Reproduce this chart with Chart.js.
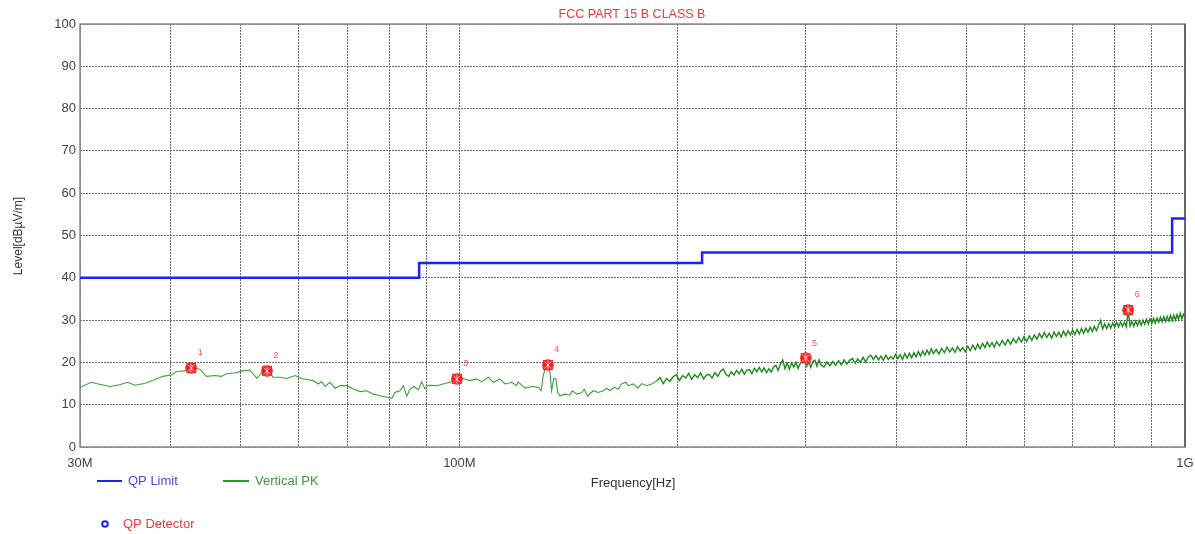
<!DOCTYPE html>
<html>
<head>
<meta charset="utf-8">
<script src="https://cdn.jsdelivr.net/npm/chart.js@4.4.1/dist/chart.umd.min.js"></script>
<style>
    html, body { margin: 0; padding: 0; background: #fff; }
    #chart { display: block; }
</style>
</head>
<body>
<canvas id="chart" width="1195" height="534"></canvas>
<script>
// QP limit (stepped), MHz / dBµV/m
const limitFreq = [30, 88, 88, 216, 216, 960, 960, 1000];
const limitLevel = [40, 40, 43.5, 43.5, 46, 46, 54, 54];

// Vertical PK trace
const pkFreq = [
    30.0, 31.1, 31.8, 33.0, 34.0, 34.9, 35.7, 36.8, 37.8, 39.0,
    40.1, 40.7, 41.8, 42.9, 43.9, 44.8, 46.0, 47.0, 47.7, 49.0,
    50.3, 51.4, 52.6, 53.6, 54.3, 55.4, 56.6, 57.8, 59.4, 60.6,
    61.9, 62.9, 63.9, 64.6, 65.3, 66.3, 67.4, 68.5, 69.9, 71.4,
    73.0, 74.5, 76.1, 77.7, 79.8, 80.7, 81.5, 82.8, 83.7, 84.6,
    85.5, 86.6, 87.8, 88.7, 89.7, 90.6, 93.0, 95.5, 97.6, 99.2,
    101.2, 103.4, 105.6, 107.3, 109.6, 111.4, 113.7, 115.6, 118.1, 119.9,
    120.5, 123.2, 125.8, 128.5, 129.6, 130.5, 131.5, 132.6, 133.3, 134.0,
    134.9, 135.8, 136.6, 137.6, 139.8, 142.0, 143.1, 145.1, 147.4, 148.6,
    150.2, 152.9, 155.4, 157.9, 159.6, 161.3, 163.5, 165.6, 167.3, 169.5,
    171.0, 173.7, 176.1, 178.4, 181.2, 184.1, 187, 189, 191, 193,
    195, 197, 199, 201, 203, 205, 207, 209, 211, 213,
    215, 217, 219, 221, 223, 225, 227, 229, 231, 233,
    235, 237, 239, 241, 243, 245, 247, 249, 251, 253,
    255, 257, 259, 261, 263, 265, 267, 269, 271, 273,
    275, 277, 279, 281, 283, 285, 287, 289, 291, 293,
    295, 297, 299, 301, 303, 305, 307, 309, 311, 313,
    315, 318, 321, 324, 327, 330, 333, 336, 339, 342,
    345, 348, 351, 354, 357, 360, 363, 366, 369, 372,
    375, 378, 381, 384, 387, 390, 393, 396, 399, 402,
    405, 408, 411, 414, 417, 420, 423, 426, 429, 432,
    435, 438, 441, 444, 447, 450, 454, 458, 462, 466,
    470, 474, 478, 482, 486, 490, 494, 498, 502, 506,
    510, 514, 518, 522, 526, 530, 534, 538, 542, 546,
    550, 555, 560, 565, 570, 575, 580, 585, 590, 595,
    600, 605, 610, 615, 620, 625, 630, 635, 640, 645,
    650, 655, 660, 665, 670, 675, 680, 685, 690, 695,
    700, 705, 710, 715, 720, 725, 730, 735, 740, 745,
    750, 755, 760, 765, 770, 775, 780, 785, 790, 795,
    800, 805, 810, 815, 820, 825, 830, 835, 840, 845,
    850, 855, 860, 865, 870, 875, 880, 885, 890, 895,
    900, 905, 910, 915, 920, 925, 930, 935, 940, 945,
    950, 955, 960, 965, 970, 975, 980, 985, 990, 995,
    1000
];
const pkLevel = [
    14.1, 15.3, 14.9, 14.3, 14.7, 15.3, 14.6, 15.0, 15.7, 16.7,
    17.0, 17.8, 18.0, 18.6, 18.4, 16.7, 16.9, 16.7, 17.3, 17.5,
    18.0, 18.2, 16.2, 18.0, 18.3, 16.5, 16.5, 16.2, 16.9, 16.2,
    15.9, 15.7, 14.9, 15.4, 14.3, 15.3, 13.9, 14.5, 14.5, 13.7,
    13.1, 13.3, 12.5, 12.1, 11.7, 11.5, 12.9, 13.3, 14.5, 12.0,
    13.7, 14.3, 13.5, 15.4, 13.7, 14.6, 14.5, 15.0, 15.4, 16.2,
    16.2, 15.7, 16.1, 15.4, 16.5, 15.3, 16.1, 14.9, 15.3, 14.5,
    15.4, 13.9, 14.3, 14.1, 13.3, 16.9, 19.2, 19.6, 17.6, 13.3,
    16.2, 16.1, 12.9, 12.1, 12.5, 12.3, 13.3, 12.5, 12.8, 13.7,
    12.0, 13.3, 12.9, 13.3, 13.9, 13.3, 14.1, 13.7, 14.9, 15.3,
    14.5, 14.9, 13.9, 15.0, 14.5, 14.9, 15.6, 16.4, 15.0, 16.2,
    15.5, 16.6, 17.1, 15.7, 16.9, 16.3, 17.4, 16.0, 17.1, 16.4,
    17.5, 16.1, 17.0, 17.2, 16.3, 17.6, 16.7, 17.9, 18.4, 17.2,
    16.7, 17.8, 17.0, 18.1, 17.3, 18.4, 17.2, 18.2, 18.3, 17.3,
    18.6, 17.8, 18.8, 17.7, 18.7, 17.6, 18.5, 17.7, 18.9, 19.3,
    18.1, 19.6, 20.6, 18.5, 19.8, 18.4, 19.9, 18.9, 20.0, 18.6,
    19.8, 20.2, 20.5, 19.1, 20.1, 18.8, 20.2, 20.5, 19.1, 20.6,
    19.4, 18.9, 20.1, 19.2, 20.2, 19.3, 20.4, 19.4, 20.6, 19.6,
    20.5, 20.9, 19.8, 20.8, 20.0, 21.2, 20.1, 21.3, 21.7, 20.7,
    21.6, 20.6, 21.5, 20.5, 21.7, 20.7, 21.4, 20.8, 21.9, 20.9,
    21.8, 20.7, 22.1, 21.0, 22.2, 21.1, 22.3, 21.3, 22.6, 21.5,
    22.7, 21.7, 22.9, 21.9, 23.2, 22.1, 23.1, 22.0, 23.3, 22.3,
    23.6, 22.5, 23.4, 22.4, 23.7, 22.7, 23.5, 22.5, 23.8, 22.8,
    24.1, 23.0, 24.3, 23.2, 24.5, 23.5, 24.8, 23.7, 24.7, 23.6,
    24.9, 23.9, 25.2, 24.1, 25.4, 24.3, 25.6, 24.6, 25.9, 24.8,
    26.1, 24.9, 26.3, 25.2, 26.5, 25.5, 26.8, 25.8, 27.1, 25.9,
    26.9, 25.7, 27.2, 26.1, 27.1, 26.0, 27.4, 26.3, 27.5, 26.5,
    27.7, 26.6, 27.8, 26.7, 28.0, 26.9, 28.1, 27.1, 28.3, 27.3,
    28.5, 27.5, 28.7, 29.9, 27.9, 29.1, 28.0, 29.2, 28.1, 29.3,
    28.3, 29.5, 28.4, 29.6, 28.5, 29.5, 28.4, 32.2, 28.6, 29.7,
    28.5, 29.8, 28.7, 29.9, 28.8, 30.0, 29.0, 30.2, 29.1, 30.3,
    29.2, 30.4, 29.3, 30.5, 29.5, 30.7, 29.6, 30.8, 29.7, 30.9,
    29.8, 31.1, 29.9, 31.2, 30.0, 31.3, 30.2, 31.6, 30.3, 31.4,
    30.7
];

// QP detector markers
const markerFreq = [42.7, 54.3, 99.2, 132.4, 300, 835];
const markerLevel = [18.7, 18.0, 16.1, 19.4, 21.0, 32.4];
const markerLabels = ['1', '2', '3', '4', '5', '6'];

// axis ticks
const gridFreqs = [30, 40, 50, 60, 70, 80, 90, 100, 200, 300, 400, 500, 600, 700, 800, 900, 1000];
const freqTickLabels = { 30: '30M', 100: '100M', 1000: '1G' };

const FONT = '"Liberation Sans", Arial, sans-serif';

function makeMarkerImage() {
    const c = document.createElement('canvas');
    c.width = 12;
    c.height = 12;
    const g = c.getContext('2d');
    g.fillStyle = '#ff1a1a';
    g.beginPath();
    g.arc(6, 6, 5.8, 0, Math.PI * 2);
    g.fill();
    g.fillRect(1, 1, 10, 10);
    g.strokeStyle = 'rgba(255,255,255,0.8)';
    g.lineWidth = 1;
    g.beginPath();
    g.moveTo(2.5, 2.5); g.lineTo(9.5, 9.5);
    g.moveTo(9.5, 2.5); g.lineTo(2.5, 9.5);
    g.moveTo(6, 1.5); g.lineTo(6, 10.5);
    g.stroke();
    return c;
}

const textPlugin = {
    id: 'texts',
    beforeDatasetsDraw(chart) {
        const { ctx, chartArea } = chart;
        ctx.save();
        ctx.strokeStyle = '#8a8a8a';
        ctx.lineWidth = 1.5;
        ctx.strokeRect(chartArea.left, chartArea.top, chartArea.right - chartArea.left, chartArea.bottom - chartArea.top);
        ctx.strokeStyle = '#555';
        ctx.beginPath();
        ctx.moveTo(chartArea.right, chartArea.top);
        ctx.lineTo(chartArea.right, chartArea.bottom);
        ctx.stroke();
        ctx.restore();
    },
    afterDraw(chart) {
        const { ctx, scales } = chart;
        const x = scales.x, y = scales.y;
        ctx.save();
        ctx.textBaseline = 'middle';

        // title
        ctx.fillStyle = '#f03a3a';
        ctx.font = '12.5px ' + FONT;
        ctx.textAlign = 'center';
        ctx.fillText('FCC PART 15 B CLASS B', 632, 15);

        // axis titles
        ctx.fillStyle = '#333';
        ctx.font = '13px ' + FONT;
        ctx.fillText('Frequency[Hz]', 633, 483);
        ctx.save();
        ctx.translate(19, 236);
        ctx.rotate(-Math.PI / 2);
        ctx.font = '12px ' + FONT;
        ctx.fillText('Level[dBµV/m]', 0, 0);
        ctx.restore();

        // marker numbers
        ctx.fillStyle = '#f25555';
        ctx.font = '9px ' + FONT;
        markerFreq.forEach((f, i) => {
            ctx.fillText(markerLabels[i], x.getPixelForValue(f) + 9, y.getPixelForValue(markerLevel[i]) - 15);
        });

        // legend
        ctx.textAlign = 'left';
        ctx.font = '13px ' + FONT;
        ctx.lineWidth = 2;
        ctx.strokeStyle = '#2020ff';
        ctx.beginPath(); ctx.moveTo(97, 481); ctx.lineTo(122, 481); ctx.stroke();
        ctx.fillStyle = '#4848f0';
        ctx.fillText('QP Limit', 128, 481);
        ctx.strokeStyle = '#2f9a2f';
        ctx.beginPath(); ctx.moveTo(223, 481); ctx.lineTo(249, 481); ctx.stroke();
        ctx.fillStyle = '#3a9a3a';
        ctx.fillText('Vertical PK', 255, 481);
        ctx.strokeStyle = '#2020ff';
        ctx.beginPath(); ctx.arc(105, 524, 2.8, 0, Math.PI * 2); ctx.stroke();
        ctx.fillStyle = '#f03a3a';
        ctx.fillText('QP Detector', 123, 524);
        ctx.restore();
    }
};

const ctx = document.getElementById('chart').getContext('2d');

new Chart(ctx, {
    type: 'line',
    data: {
        datasets: [
            {
                label: 'QP Limit',
                data: limitFreq.map((f, i) => ({ x: f, y: limitLevel[i] })),
                borderColor: '#1f1fff',
                borderWidth: 2.5,
                pointRadius: 0,
                tension: 0,
                order: 2
            },
            {
                label: 'Vertical PK',
                data: pkFreq.map((f, i) => ({ x: f, y: pkLevel[i] })),
                borderColor: '#3f9f3f',
                borderWidth: 1.1,
                pointRadius: 0,
                tension: 0,
                order: 3,
                segment: {
                    borderColor: (c) => c.p0.parsed.x >= 185 ? '#1e8a1e' : undefined,
                    borderWidth: (c) => c.p0.parsed.x >= 185 ? 1.4 : undefined
                }
            },
            {
                label: 'QP Detector',
                type: 'scatter',
                data: markerFreq.map((f, i) => ({ x: f, y: markerLevel[i] })),
                pointStyle: makeMarkerImage(),
                pointRadius: 6,
                order: 1
            }
        ]
    },
    options: {
        responsive: false,
        animation: false,
        devicePixelRatio: 1,
        layout: { padding: { top: 24, right: 10, left: 0, bottom: 0 } },
        plugins: {
            legend: { display: false },
            tooltip: { enabled: false },
            title: { display: false }
        },
        scales: {
            x: {
                type: 'logarithmic',
                min: 30,
                max: 1000,
                afterBuildTicks: (scale) => {
                    scale.ticks = gridFreqs.map(v => ({ value: v }));
                },
                afterFit: (scale) => {
                    scale.height = 87;
                    scale.paddingLeft = 0;
                    scale.paddingRight = 0;
                },
                grid: { color: '#6a6a6a', lineWidth: 1, drawTicks: false },
                border: { display: false, dash: [2, 1] },
                ticks: {
                    autoSkip: false,
                    maxRotation: 0,
                    padding: 9,
                    color: '#444',
                    font: { family: FONT, size: 13 },
                    callback: (v) => freqTickLabels[v] || ''
                }
            },
            y: {
                type: 'linear',
                min: 0,
                max: 100,
                afterFit: (scale) => { scale.width = 80; },
                grid: { color: '#6a6a6a', lineWidth: 1, drawTicks: false },
                border: { display: false, dash: [2, 1] },
                ticks: {
                    stepSize: 10,
                    padding: 4,
                    color: '#444',
                    font: { family: FONT, size: 13 }
                }
            }
        }
    },
    plugins: [textPlugin]
});
</script>
</body>
</html>
